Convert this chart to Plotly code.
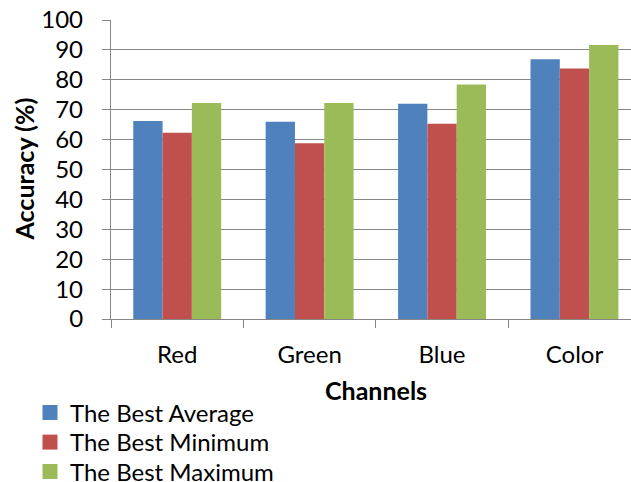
import plotly.graph_objects as go

categories = ["Red", "Green", "Blue", "Color"]
best_average = [66.2, 66.0, 72.0, 86.9]
best_minimum = [62.3, 58.8, 65.3, 83.8]
best_maximum = [72.2, 72.2, 78.4, 91.6]
series_names = ["The Best Average", "The Best Minimum", "The Best Maximum"]
series_colors = ["#4F81BD", "#C0504D", "#9BBB59"]
y_ticks = [0, 10, 20, 30, 40, 50, 60, 70, 80, 90, 100]

FONT = "Lato"
AXIS_COLOR = "#868686"
W, H = 631, 482

fig = go.Figure()
legend_ids = ["legend", "legend2", "legend3"]
for name, vals, col in zip(series_names, [best_average, best_minimum, best_maximum], series_colors):
    fig.add_trace(go.Bar(x=categories, y=vals, name=name, showlegend=False,
                         marker=dict(color=col, line=dict(width=0))))
# legend keys (15px squares, like the reference)
for name, col, lid in zip(series_names, series_colors, legend_ids):
    fig.add_trace(go.Scatter(x=[None], y=[None], name=name, legend=lid, mode="markers",
                             marker=dict(symbol="square", size=15, color=col, line=dict(width=0)),
                             hoverinfo="skip"))

legend_rows = [413, 442.5, 472]
legend_common = dict(xref="container", yref="container", xanchor="left", yanchor="middle",
                     font=dict(family=FONT, size=24, color="black"),
                     itemclick=False, bgcolor="rgba(0,0,0,0)", borderwidth=0)
legends = {}
for lid, row in zip(legend_ids, legend_rows):
    legends[lid] = dict(x=30 / W, y=1 - row / H, **legend_common)

fig.update_layout(
    width=W, height=H,
    margin=dict(l=111, r=0, t=20, b=163, autoexpand=False),
    paper_bgcolor="white", plot_bgcolor="white",
    barmode="group", bargap=0.336, bargroupgap=0,
    font=dict(family=FONT, size=24, color="black"),
    showlegend=True,
    xaxis=dict(type="category", range=[-0.5, 3.427], tickson="boundaries",
               showgrid=False, showline=True, linecolor=AXIS_COLOR, linewidth=1.3,
               ticks="outside", ticklen=8, tickcolor=AXIS_COLOR, tickwidth=1.3,
               ticklabelstandoff=14, tickfont=dict(size=24), fixedrange=True,
               automargin=False),
    yaxis=dict(range=[0, 100], tickvals=y_ticks, showgrid=True, gridcolor=AXIS_COLOR,
               gridwidth=1.3, showline=True, linecolor=AXIS_COLOR, linewidth=1.3,
               ticks="outside", ticklen=8, tickcolor=AXIS_COLOR, tickwidth=1.3,
               ticklabelstandoff=14, tickfont=dict(size=24), zeroline=False,
               fixedrange=True, automargin=False),
    annotations=[
        dict(text="<b>Channels</b>", xref="x", yref="paper", x=1.5, y=-0.237,
             xanchor="center", yanchor="middle", showarrow=False,
             font=dict(family=FONT, size=25, color="black")),
        dict(text="<b>Accuracy (%)</b>", xref="paper", yref="paper",
             x=(23 - 111) / 520, y=0.5, textangle=-90,
             xanchor="center", yanchor="middle", showarrow=False,
             font=dict(family=FONT, size=25, color="black")),
    ],
)
fig.update_layout(**legends)

fig.write_html("out.html")
